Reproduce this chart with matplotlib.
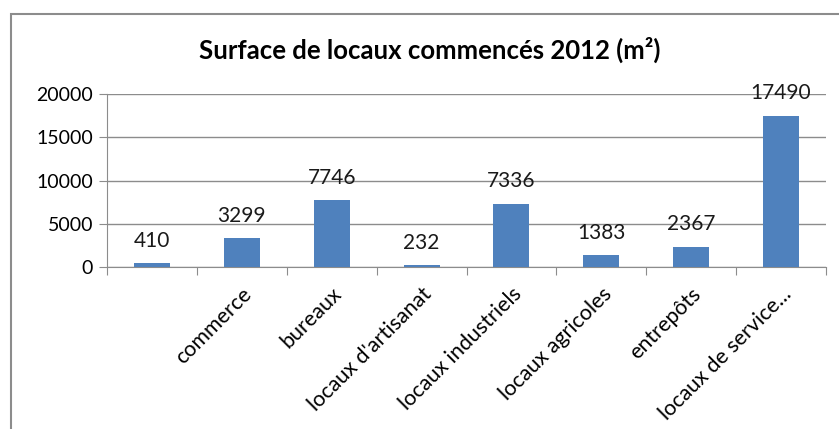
import matplotlib.pyplot as plt
from matplotlib.patches import Rectangle

plt.rcParams['font.family'] = ['Lato', 'DejaVu Sans']

# Données
categories = ['', 'commerce', 'bureaux', "locaux d'artisanat", 'locaux industriels',
              'locaux agricoles', 'entrepôts', 'locaux de service...']
surfaces = [410, 3299, 7746, 232, 7336, 1383, 2367, 17490]
yticks = [0, 5000, 10000, 15000, 20000]

fig = plt.figure(figsize=(8.39, 4.29), dpi=100)
ax = fig.add_axes([107 / 839, 1 - 267 / 429, 719 / 839, 173 / 429])

# Cadre extérieur du graphique
fig.patches.append(Rectangle((11 / 839, -0.1), 1.2, 1 - 14 / 429 + 0.1, transform=fig.transFigure,
                             fill=False, edgecolor='#8c8c8c', linewidth=1.5))

x = range(len(categories))
bars = ax.bar(x, surfaces, width=0.4, color='#4F81BD', zorder=3)

# Étiquettes de valeurs
for xi, v in zip(x, surfaces):
    ax.annotate(str(v), (xi, v), xytext=(0, 16), textcoords='offset points',
                ha='center', va='center', fontsize=15, color='#1a1a1a')

ax.set_xlim(-0.5, len(categories) - 0.5)
ax.set_ylim(0, 20000)
ax.set_yticks(yticks)
ax.set_yticklabels([str(t) for t in yticks], fontsize=14)
ax.set_xticks([i + 0.5 for i in range(-1, len(categories))], minor=False)
ax.set_xticklabels([])
ax.set_xticks(list(x), minor=True)
ax.set_xticklabels(categories, minor=True, rotation=45, ha='right', rotation_mode='anchor', fontsize=15.5)
ax.tick_params(axis='x', which='minor', length=0, pad=12)
ax.tick_params(axis='x', which='major', length=6, color='#8c8c8c')
ax.tick_params(axis='y', length=6, color='#8c8c8c', pad=4)

ax.grid(axis='y', color='#8c8c8c', linewidth=1, zorder=0)
for s in ['top', 'right']:
    ax.spines[s].set_visible(False)
ax.spines['left'].set_color('#8c8c8c')
ax.spines['bottom'].set_color('#8c8c8c')

fig.text(430 / 839, 1 - 50 / 429, 'Surface de locaux commencés 2012 (m²)',
         ha='center', va='center', fontsize=18.5, fontweight='bold')

plt.savefig('out.png', dpi=100)
